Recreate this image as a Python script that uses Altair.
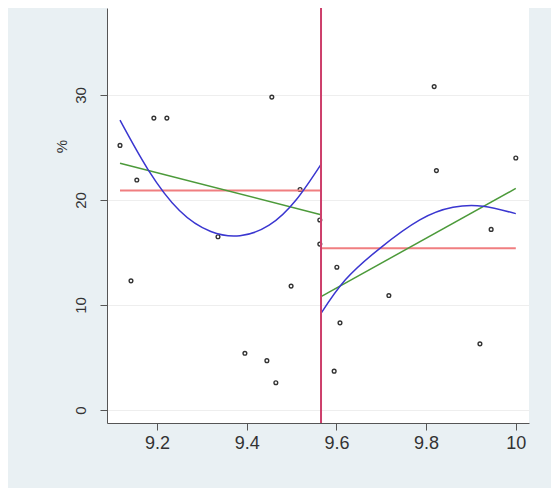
import altair as alt
import pandas as pd

# scatter points (x = running variable, y = %)
pt_x = [9.1175, 9.142, 9.155, 9.193, 9.222, 9.213, 9.336, 9.396, 9.445, 9.456,
        9.465, 9.499, 9.519, 9.563, 9.563,
        9.601, 9.608, 9.595, 9.717, 9.818, 9.823, 9.920, 9.945, 10.0]
pt_y = [25.2, 12.3, 21.9, 27.8, 27.8, 38.6, 16.5, 5.4, 4.7, 29.8,
        2.6, 11.8, 21.0, 18.1, 15.8,
        13.6, 8.3, 3.7, 10.9, 30.8, 22.8, 6.3, 17.2, 24.0]

cutoff = 9.5657

# mean lines
mean_l_x = [9.1175, 9.5657]
mean_l_y = [20.9, 20.9]
mean_r_x = [9.5657, 10.0]
mean_r_y = [15.4, 15.4]

# linear fits
lin_l_x = [9.1175, 9.5657]
lin_l_y = [23.5, 18.6]
lin_r_x = [9.5657, 10.0]
lin_r_y = [10.8, 21.1]

# cubic fits
cub_l_x = [9.1175, 9.180, 9.250, 9.320, 9.385, 9.450, 9.510, 9.5657]
cub_l_y = [27.6, 22.9, 19.0, 17.0, 16.6, 17.6, 20.0, 23.4]
cub_r_x = [9.5657, 9.620, 9.697, 9.786, 9.860, 9.927, 10.0]
cub_r_y = [9.2, 12.4, 15.4, 18.1, 19.3, 19.4, 18.7]

XDOM = [9.08852, 10.02943]
YDOM = [-1.238, 38.286]

xs = alt.Scale(domain=XDOM, nice=False, zero=False)
ys = alt.Scale(domain=YDOM, nice=False, zero=False)

x_axis = alt.Axis(values=[9.2, 9.4, 9.6, 9.8, 10], format="~g", title=None,
                  grid=False, tickSize=7, labelPadding=4, labelFontSize=18,
                  labelColor="#333333", domainColor="#555555", tickColor="#555555",
                  labelFont="Liberation Sans")
y_axis = alt.Axis(values=[0, 10, 20, 30], title="%", grid=True, gridColor="#EEEEEE",
                  tickSize=7, labelAngle=270, labelAlign="center", labelBaseline="middle",
                  labelPadding=20, labelFontSize=15, labelColor="#333333",
                  domainColor="#555555", tickColor="#555555", labelFont="Liberation Sans",
                  titleAngle=270, titleX=-46, titleY=138, titleFontSize=15,
                  titleFontWeight="normal", titleColor="#333333", titleFont="Liberation Sans",
                  titleAlign="center", titleBaseline="middle")

def line_df(xv, yv):
    return pd.DataFrame({"x": xv, "y": yv})

pts = alt.Chart(pd.DataFrame({"x": pt_x, "y": pt_y})).mark_point(
    shape="circle", filled=False, size=14, strokeWidth=1.4, color="#333333", opacity=1
).encode(x=alt.X("x:Q", scale=xs, axis=x_axis), y=alt.Y("y:Q", scale=ys, axis=y_axis))

def ln(xv, yv, color, width, interp="linear"):
    return alt.Chart(line_df(xv, yv)).mark_line(color=color, strokeWidth=width, interpolate=interp).encode(
        x=alt.X("x:Q", scale=xs), y=alt.Y("y:Q", scale=ys))

vline = alt.Chart(pd.DataFrame({"c": [cutoff]})).mark_rule(color="#CD3F6B", strokeWidth=2).encode(
    x=alt.X("c:Q", scale=xs))

layers = [
    pts,
    ln(mean_l_x, mean_l_y, "#F07E80", 2),
    ln(mean_r_x, mean_r_y, "#F07E80", 2),
    ln(lin_l_x, lin_l_y, "#4C9A3A", 1.5),
    ln(lin_r_x, lin_r_y, "#4C9A3A", 1.5),
    ln(cub_l_x, cub_l_y, "#3A36D0", 1.5, "natural"),
    ln(cub_r_x, cub_r_y, "#3A36D0", 1.5, "natural"),
    vline,
]

chart = alt.layer(*layers).properties(
    width=422, height=415,
    autosize=alt.AutoSizeParams(type="none"),
    padding={"left": 99, "top": 0, "right": 22, "bottom": 65},
    background="#E9F0F3",
).configure_view(stroke=None, fill="white")

chart.save("out.html", embed_options={"renderer": "svg", "actions": False})
